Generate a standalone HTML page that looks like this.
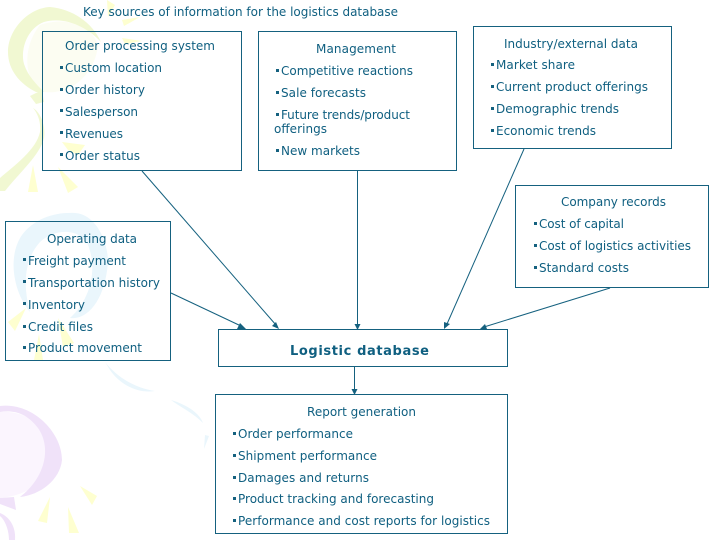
<!DOCTYPE html>
<html><head><meta charset="utf-8"><style>
html,body{margin:0;padding:0;background:#fff}
svg{display:block}
text{font-family:"DejaVu Sans","Liberation Sans",sans-serif;font-size:12px;fill:#0f5f80}
.b{fill:none;stroke:#15617f;stroke-width:1}
.l{stroke:#15617f;stroke-width:1;fill:none}
.a{fill:#15617f}
.s{fill:#15617f}
</style></head><body>
<svg width="720" height="540" viewBox="0 0 720 540" xmlns="http://www.w3.org/2000/svg">
<!-- background balloons -->
<path d="M40,25 C70,15 92,28 98,45 C95,75 70,95 45,92 C25,85 20,50 40,25Z" fill="#fcfdf2"/>
<g fill="#f1f8d2">
<path d="M50,7 C72,9 92,22 101,42 C88,28 66,16 44,22 C28,28 20,48 24,64 C28,76 36,84 44,92 L36,92 C20,84 8,70 8,52 C8,30 28,8 50,7Z"/>
<path d="M30,96 L42,90 44,102 36,104Z"/>
<path d="M33,108 C40,112 46,125 44,138 C40,155 20,172 5,191 L0,191 L0,178 C15,165 36,150 40,132 C41,122 38,114 33,108Z"/>
</g>
<g fill="#feffd0">
<polygon points="107,0 115,5 108,17"/><polygon points="122,20 140,17 124,26"/><polygon points="122,38 142,41 125,44"/>
<polygon points="62,142 85,145 78,155 68,150"/><polygon points="33,165 38,192 28,192"/><polygon points="58,167 78,187 68,193"/>
<polygon points="26,308 8,322 15,331"/><polygon points="39,334 43,360 34,360"/><polygon points="58,318 74,343 63,347"/>
<polygon points="80,486 97,496 92,505"/><polygon points="50,497 38,521 47,523"/><polygon points="68,507 79,533 69,533"/>
</g>
<g fill="#eaf6fc">
<path d="M75,213 C95,214 108,240 108,262 C105,300 88,320 70,318 C90,300 98,270 88,245 C80,228 55,228 40,242 C22,262 24,290 30,312 C12,290 8,255 22,235 C35,218 55,212 75,213Z"/>
<path d="M105,362 C118,378 135,388 155,391 C135,394 118,382 110,370Z"/>
<path d="M171,400 C188,405 200,414 203,423 C192,412 180,407 171,400Z"/>
<polygon points="205,435 209,436 204,449"/>
</g>
<path d="M0,412 C30,410 50,430 50,458 C48,480 30,495 0,498Z" fill="#fbf5fe"/>
<g fill="#f0e2f9">
<path d="M0,406 C32,402 62,432 62,460 C60,480 40,495 20,497 C45,478 52,448 38,428 C26,412 12,410 0,412Z"/>
<path d="M0,498 L14,497 16,510 0,504Z"/><path d="M0,513 C12,518 16,530 15,540 L9,540 C9,530 5,520 0,516Z"/>
</g>
<!-- boxes -->
<rect class="b" x="42.5" y="31.5" width="199" height="139"/>
<rect class="b" x="258.5" y="31.5" width="198" height="139"/>
<rect class="b" x="473.5" y="26.5" width="198" height="122"/>
<rect class="b" x="515.5" y="185.5" width="193" height="102"/>
<rect class="b" x="5.5" y="221.5" width="165" height="139"/>
<rect class="b" x="218.5" y="329.5" width="289" height="37"/>
<rect class="b" x="215.5" y="394.5" width="292" height="139"/>
<!-- connectors -->
<line class="l" x1="142" y1="171" x2="276" y2="325"/><polygon class="a" points="279,329 272,326 276,322"/>
<line class="l" x1="171" y1="293" x2="241" y2="326"/><polygon class="a" points="246,329 237,329 240,323"/>
<line class="l" x1="357.5" y1="171" x2="357.5" y2="325"/><polygon class="a" points="354.5,324 360.5,324 357.5,330"/>
<line class="l" x1="524" y1="149" x2="447" y2="324"/><polygon class="a" points="444,329 444,322 450,324"/>
<line class="l" x1="610" y1="288" x2="484" y2="327"/><polygon class="a" points="480,329 485,324 487,329"/>
<line class="l" x1="354.5" y1="367" x2="354.5" y2="390"/><polygon class="a" points="351.5,389 357.5,389 354.5,395"/>
<!-- bullets -->
<g class="s">
<rect x="60" y="66" width="3" height="3"/><rect x="60" y="88" width="3" height="3"/><rect x="60" y="109" width="3" height="3"/><rect x="60" y="131" width="3" height="3"/><rect x="60" y="153" width="3" height="3"/>
<rect x="276" y="69" width="3" height="3"/><rect x="276" y="91" width="3" height="3"/><rect x="276" y="113" width="3" height="3"/><rect x="276" y="149" width="3" height="3"/>
<rect x="491" y="63" width="3" height="3"/><rect x="491" y="85" width="3" height="3"/><rect x="491" y="107" width="3" height="3"/><rect x="491" y="129" width="3" height="3"/>
<rect x="534" y="222" width="3" height="3"/><rect x="534" y="244" width="3" height="3"/><rect x="534" y="266" width="3" height="3"/>
<rect x="23" y="258" width="3" height="3"/><rect x="23" y="280" width="3" height="3"/><rect x="23" y="302" width="3" height="3"/><rect x="23" y="325" width="3" height="3"/><rect x="23" y="346" width="3" height="3"/>
<rect x="233" y="432" width="3" height="3"/><rect x="233" y="454" width="3" height="3"/><rect x="233" y="476" width="3" height="3"/><rect x="233" y="497" width="3" height="3"/><rect x="233" y="519" width="3" height="3"/>
</g>
<!-- text -->
<text x="83" y="16" textLength="315">Key sources of information for the logistics database</text>
<text x="65" y="50" textLength="150">Order processing system</text>
<text x="65" y="72" textLength="97">Custom location</text>
<text x="65" y="94" textLength="80">Order history</text>
<text x="65" y="116" textLength="73">Salesperson</text>
<text x="65" y="138" textLength="58">Revenues</text>
<text x="65" y="160" textLength="75">Order status</text>
<text x="316" y="53" textLength="80">Management</text>
<text x="281" y="75" textLength="132">Competitive reactions</text>
<text x="281" y="97" textLength="85">Sale forecasts</text>
<text x="281" y="119" textLength="129">Future trends/product</text>
<text x="274" y="133" textLength="53">offerings</text>
<text x="281" y="155" textLength="79">New markets</text>
<text x="504" y="48" textLength="134">Industry/external data</text>
<text x="496" y="69" textLength="79">Market share</text>
<text x="496" y="91" textLength="152">Current product offerings</text>
<text x="496" y="113" textLength="123">Demographic trends</text>
<text x="496" y="135" textLength="100">Economic trends</text>
<text x="561" y="206" textLength="105">Company records</text>
<text x="539" y="228" textLength="85">Cost of capital</text>
<text x="539" y="250" textLength="152">Cost of logistics activities</text>
<text x="539" y="272" textLength="90">Standard costs</text>
<text x="47" y="243" textLength="90">Operating data</text>
<text x="28" y="265" textLength="98">Freight payment</text>
<text x="28" y="287" textLength="132">Transportation history</text>
<text x="28" y="309" textLength="57">Inventory</text>
<text x="28" y="331" textLength="65">Credit files</text>
<text x="28" y="352" textLength="114">Product movement</text>
<text x="290" y="355" textLength="139" style="font-weight:bold;font-size:13px">Logistic database</text>
<text x="307" y="416" textLength="109">Report generation</text>
<text x="238" y="438" textLength="115">Order performance</text>
<text x="238" y="460" textLength="139">Shipment performance</text>
<text x="238" y="482" textLength="131">Damages and returns</text>
<text x="238" y="503" textLength="196">Product tracking and forecasting</text>
<text x="238" y="525" textLength="252">Performance and cost reports for logistics</text>
</svg>
</body></html>
